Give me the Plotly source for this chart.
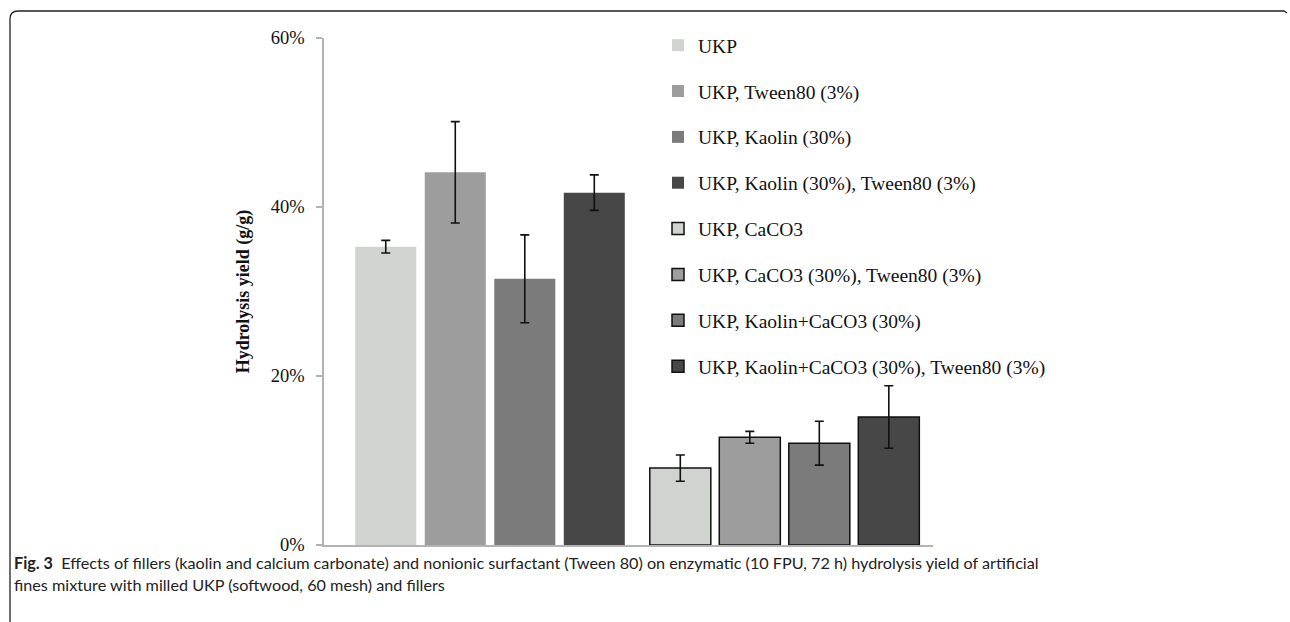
import plotly.graph_objects as go

# ---- data ----
groups = ["Without filler / kaolin", "CaCO3 / mixed"]
series_names = [
    "UKP",
    "UKP, Tween80 (3%)",
    "UKP, Kaolin (30%)",
    "UKP, Kaolin (30%), Tween80 (3%)",
    "UKP, CaCO3",
    "UKP, CaCO3 (30%), Tween80 (3%)",
    "UKP, Kaolin+CaCO3 (30%)",
    "UKP, Kaolin+CaCO3 (30%), Tween80 (3%)",
]
series_group = [0, 0, 0, 0, 1, 1, 1, 1]
yield_pct = [35.3, 44.1, 31.5, 41.7, 9.1, 12.75, 12.05, 15.15]
error_pct = [0.75, 6.0, 5.2, 2.1, 1.55, 0.7, 2.6, 3.7]
colors = ["#d1d3d1", "#9d9d9d", "#7b7b7b", "#474747",
          "#d1d3d1", "#9d9d9d", "#7b7b7b", "#474747"]
outlined = [False, False, False, False, True, True, True, True]
y_ticks = [0, 20, 40, 60]
y_ticktext = ["0%", "20%", "40%", "60%"]
caption_1 = ("<b>Fig. 3</b>  Effects of fillers (kaolin and calcium carbonate) and nonionic surfactant "
             "(Tween 80) on enzymatic (10 FPU, 72 h) hydrolysis yield of artificial")
caption_2 = "fines mixture with milled UKP (softwood, 60 mesh) and fillers"

# ---- layout geometry (pixels) ----
W, H = 1290, 622
L, R, T, B = 324, 933, 38, 545


def px(x):
    return (x - L) / (R - L)


def py(y):
    return (B - y) / (B - T)


fig = go.Figure()
for i, name in enumerate(series_names):
    fig.add_trace(go.Bar(
        x=[groups[series_group[i]]],
        y=[yield_pct[i]],
        name=name,
        offsetgroup=str(i % 4),
        legendgroup=name,
        marker=dict(color=colors[i],
                    line=dict(color="#111111", width=1.5 if outlined[i] else 0)),
        error_y=dict(type="data", array=[error_pct[i]], visible=True,
                     color="#111111", thickness=1.6, width=4.5),
        hovertemplate="%{y:.1f}%<extra>" + name + "</extra>",
    ))

serif = "Liberation Serif, Times New Roman, serif"
sans = "Lato, Open Sans, Noto Sans, sans-serif"

# border frame of the figure panel
border = (f"M {px(10)},{py(622)} L {px(10)},{py(19)} "
          f"Q {px(10)},{py(11)} {px(18)},{py(11)} "
          f"L {px(1284)},{py(11)} L {px(1287)},{py(13)}")

fig.update_layout(
    width=W, height=H,
    margin=dict(l=L, r=W - R, t=T, b=H - B, pad=0),
    paper_bgcolor="white", plot_bgcolor="white",
    barmode="group",
    bargap=0.056,
    bargroupgap=0.122,
    font=dict(family=serif, size=17, color="#111111"),
    showlegend=True,
    legend=dict(
        x=px(658), y=py(26), xanchor="left", yanchor="top",
        xref="paper", yref="paper",
        font=dict(family=serif, size=19.5, color="#111111"),
        tracegroupgap=17.5,
        itemwidth=30,
        maxheight=600,
        bgcolor="rgba(0,0,0,0)",
        traceorder="grouped",
    ),
    xaxis=dict(
        type="category",
        range=[-0.5637, 1.504],
        showticklabels=False,
        ticks="",
        showgrid=False,
        zeroline=False,
        showline=True, linecolor="#b3b3b3", linewidth=1.5,
        fixedrange=True,
    ),
    yaxis=dict(
        range=[0, 60],
        tickvals=y_ticks,
        ticktext=y_ticktext,
        ticks="outside", ticklen=6, tickcolor="#b3b3b3", tickwidth=1.5,
        ticklabelstandoff=8,
        showgrid=False, zeroline=False,
        showline=True, linecolor="#b3b3b3", linewidth=1.5,
        tickfont=dict(family=serif, size=18.5, color="#111111"),
        title=dict(text="<b>Hydrolysis yield (g/g)</b>",
                   font=dict(family=serif, size=18, color="#111111"),
                   standoff=16),
    ),
    shapes=[dict(type="path", xref="paper", yref="paper", path=border,
                 line=dict(color="#222222", width=1.3))],
    annotations=[
        dict(text=caption_1, xref="paper", yref="paper", x=px(12), y=py(562),
             xanchor="left", yanchor="middle", showarrow=False, align="left",
             font=dict(family=sans, size=16.2, color="#222222")),
        dict(text=caption_2, xref="paper", yref="paper", x=px(12), y=py(584),
             xanchor="left", yanchor="middle", showarrow=False, align="left",
             font=dict(family=sans, size=16.2, color="#222222")),
    ],
)

fig.write_html("out.html")
